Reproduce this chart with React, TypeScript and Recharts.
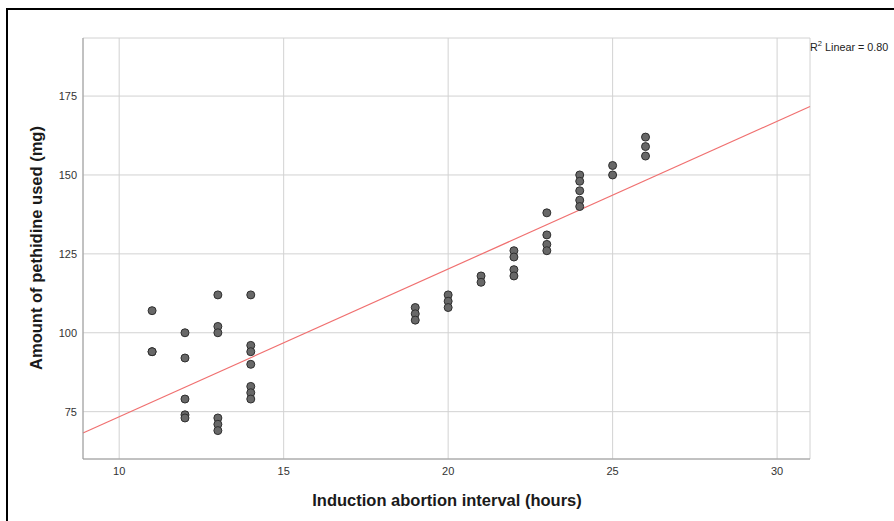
import React from "react";
import {
  ScatterChart,
  Scatter,
  CartesianGrid,
  XAxis,
  YAxis,
  ReferenceLine,
  Label,
} from "recharts";

// hours of induction-abortion interval, one entry per case
const hours = [
  11, 11, 11,
  12, 12, 12, 12, 12,
  13, 13, 13, 13, 13, 13,
  14, 14, 14, 14, 14, 14, 14,
  19, 19, 19,
  20, 20, 20,
  21, 21,
  22, 22, 22, 22,
  23, 23, 23, 23,
  24, 24, 24, 24, 24,
  25, 25,
  26, 26, 26,
];

// pethidine used (mg), same order as hours
const pethidine = [
  107, 94, 94,
  100, 92, 79, 74, 73,
  112, 102, 100, 73, 71, 69,
  112, 96, 94, 90, 83, 81, 79,
  108, 106, 104,
  112, 110, 108,
  118, 116,
  126, 124, 120, 118,
  138, 131, 128, 126,
  150, 148, 145, 142, 140,
  153, 150,
  162, 159, 156,
];

const xTicks = [10, 15, 20, 25, 30];
const yTicks = [75, 100, 125, 150, 175];
const xDomain = [8.9, 31];
const yDomain = [60, 193.4];

// linear fit as drawn in the figure
const fitIntercept = 26.6;
const fitSlope = 4.68;

const points = hours.map((h, i) => ({ x: h, y: pethidine[i] }));

const FONT = "'Liberation Sans', Arial, sans-serif";

function Dot(props: any) {
  return (
    <circle
      cx={props.cx}
      cy={props.cy}
      r={4}
      fill="#686868"
      stroke="#2e2e2e"
      strokeWidth={1}
    />
  );
}

export default function App() {
  return (
    <div
      style={{
        position: "absolute",
        left: 0,
        top: 0,
        width: 894,
        height: 521,
        background: "#fff",
        overflow: "hidden",
      }}
    >
      <div style={{ position: "absolute", left: 6, top: 8, width: 888, height: 2, background: "#000" }} />
      <div style={{ position: "absolute", left: 6, top: 8, width: 2, height: 513, background: "#000" }} />
      <ScatterChart
        width={894}
        height={521}
        margin={{ top: 38, right: 84, bottom: 0, left: 0 }}
      >
        <CartesianGrid stroke="#d2d2d2" strokeWidth={1} />
        <XAxis
          type="number"
          dataKey="x"
          domain={xDomain}
          ticks={xTicks}
          height={62}
          allowDataOverflow
          tickLine={false}
          tickSize={0}
          axisLine={{ stroke: "#9a9a9a" }}
          tick={{ fill: "#333333", fontSize: 11, fontFamily: FONT }}
          tickMargin={8}
        >
          <Label
            content={() => (
              <text
                x={447}
                y={506}
                textAnchor="middle"
                fontFamily={FONT}
                fontWeight="bold"
                fontSize={16.5}
                fill="#1a1a1a"
              >
                Induction abortion interval (hours)
              </text>
            )}
          />
        </XAxis>
        <YAxis
          type="number"
          dataKey="y"
          domain={yDomain}
          ticks={yTicks}
          width={83}
          allowDataOverflow
          tickLine={false}
          tickSize={0}
          axisLine={{ stroke: "#9a9a9a" }}
          tick={{ fill: "#333333", fontSize: 11, fontFamily: FONT }}
          tickMargin={6}
        >
          <Label
            content={() => (
              <text
                x={42}
                y={248}
                transform="rotate(-90 42 248)"
                textAnchor="middle"
                fontFamily={FONT}
                fontWeight="bold"
                fontSize={16.5}
                fill="#1a1a1a"
              >
                Amount of pethidine used (mg)
              </text>
            )}
          />
        </YAxis>
        <ReferenceLine
          segment={[
            { x: xDomain[0], y: fitIntercept + fitSlope * xDomain[0] },
            { x: xDomain[1], y: fitIntercept + fitSlope * xDomain[1] },
          ]}
          stroke="#f07070"
          strokeWidth={1.2}
          ifOverflow="visible"
        />
        <Scatter data={points} shape={Dot} isAnimationActive={false} />
      </ScatterChart>
      <div
        style={{
          position: "absolute",
          left: 810,
          top: 39,
          fontFamily: FONT,
          fontSize: 10.8,
          color: "#222",
          whiteSpace: "nowrap",
        }}
      >
        R<sup style={{ fontSize: 7.5 }}>2</sup> Linear = 0.80
      </div>
    </div>
  );
}
